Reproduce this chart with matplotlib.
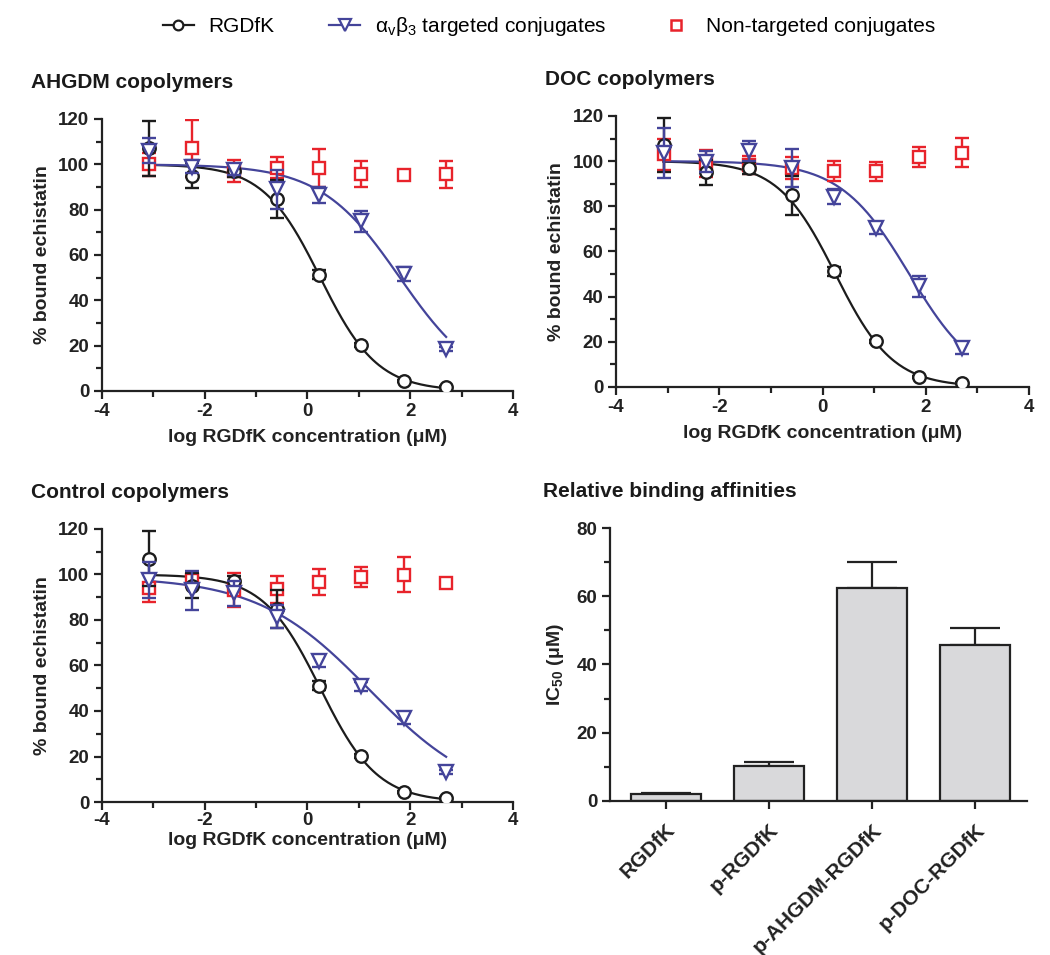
import numpy as np
import matplotlib.pyplot as plt
from matplotlib.lines import Line2D

plt.rcParams['font.family'] = ['Liberation Sans', 'DejaVu Sans']
plt.rcParams['axes.unicode_minus'] = False

# log RGDfK concentration (uM)
x = [-3.08, -2.25, -1.43, -0.6, 0.22, 1.04, 1.87, 2.7]

# RGDfK (same control in all three curve panels)
rgd_y = [107.0, 95.0, 97.0, 84.8, 51.2, 20.2, 4.4, 1.8]
rgd_e = [12.0, 5.5, 2.5, 8.5, 2.0, 0.8, 0.6, 0.5]

# AHGDM copolymers
ahgdm_t_y = [106.0, 99.0, 97.5, 89.0, 86.5, 74.8, 51.5, 18.5]
ahgdm_t_e = [5.5, 3.0, 2.0, 8.5, 3.5, 4.5, 3.0, 0.8]
ahgdm_n_y = [100.0, 107.0, 97.2, 98.5, 98.5, 95.7, 95.3, 95.6]
ahgdm_n_e = [5.0, 12.5, 4.8, 4.7, 8.3, 5.8, 2.0, 6.0]

# DOC copolymers
doc_t_y = [103.5, 99.8, 104.4, 97.0, 84.3, 70.3, 44.5, 17.2]
doc_t_e = [11.0, 4.5, 4.5, 8.5, 3.5, 2.5, 4.8, 2.5]
doc_n_y = [103.0, 99.0, 98.3, 97.0, 95.7, 95.4, 101.7, 103.8]
doc_n_e = [7.0, 6.0, 4.0, 5.0, 4.5, 4.0, 4.5, 6.5]

# Control copolymers
ctl_t_y = [97.5, 93.0, 91.8, 81.5, 62.0, 50.8, 37.0, 13.2]
ctl_t_e = [8.0, 8.5, 5.5, 5.0, 2.5, 2.0, 2.5, 0.8]
ctl_n_y = [94.0, 97.6, 93.2, 93.5, 96.9, 98.8, 99.8, 96.4]
ctl_n_e = [6.0, 3.0, 7.5, 6.0, 5.7, 4.5, 7.7, 0.8]

# fitted dose-response parameters: (top, log IC50, hill)
rgd_fit = (100.0, 0.25, 0.78)
ahgdm_fit = (100.0, 1.80, 0.56)
doc_fit = (100.0, 1.68, 0.65)
ctl_fit = (99.0, 1.20, 0.40)

# relative binding affinities
bar_names = ['RGDfK', 'p-RGDfK', 'p-AHGDM-RGDfK', 'p-DOC-RGDfK']
ic50 = [1.9, 10.3, 62.3, 45.6]
ic50_err = [0.3, 1.2, 7.6, 5.1]

black = '#1c1c1c'
blue = '#44449a'
red = '#e8232b'
axc = '#222222'


def fit_curve(params):
    top, logic, hill = params
    xx = np.linspace(x[0], x[-1], 200)
    return xx, top / (1 + 10 ** ((xx - logic) * hill))


def style(ax, xlim, ylim, yticks, minor):
    for s in ['top', 'right']:
        ax.spines[s].set_visible(False)
    for s in ['left', 'bottom']:
        ax.spines[s].set_linewidth(1.6)
        ax.spines[s].set_color(axc)
    ax.set_xlim(*xlim)
    ax.set_ylim(*ylim)
    ax.set_yticks(yticks)
    ax.set_yticks(minor, minor=True)
    ax.tick_params(which='major', length=6, width=1.6, labelsize=13.5, color=axc, pad=3)
    ax.tick_params(which='minor', length=4, width=1.6, color=axc)
    for lb in ax.get_xticklabels() + ax.get_yticklabels():
        lb.set_fontweight('bold')
        lb.set_color(axc)


def series(ax, y, e, marker, ms, col, z):
    ax.errorbar(x, y, yerr=e, fmt=marker, ms=ms, mfc='white', mec=col, mew=1.7,
                ecolor=col, elinewidth=1.7, capsize=5, capthick=1.7, zorder=z)


def curve_panel(ax, title, t_y, t_e, n_y, n_e, t_fit, tpad, xpad):
    xx, yy = fit_curve(rgd_fit)
    ax.plot(xx, yy, color=black, lw=1.6, zorder=2)
    xx, yy = fit_curve(t_fit)
    ax.plot(xx, yy, color=blue, lw=1.6, zorder=2)
    series(ax, n_y, n_e, 's', 9, red, 3)
    series(ax, rgd_y, rgd_e, 'o', 9, black, 4)
    series(ax, t_y, t_e, 'v', 10, blue, 5)
    style(ax, (-4, 4), (0, 120), range(0, 121, 20), range(10, 120, 20))
    ax.set_xticks([-4, -2, 0, 2, 4])
    ax.set_xticks([-3, -1, 1, 3], minor=True)
    ax.tick_params(axis='x', which='major', pad=tpad)
    for lb in ax.get_xticklabels():
        lb.set_fontweight('bold')
    ax.set_xlabel(u'log RGDfK concentration (\u03bcM)', fontsize=14, fontweight='bold',
                  color=axc, labelpad=xpad)
    ax.set_ylabel('% bound echistatin', fontsize=14, fontweight='bold', color=axc,
                  labelpad=5)
    ax.set_title(title, fontsize=15, fontweight='bold', loc='left', x=-0.172, pad=22,
                 color='#1a1a1a')


fig = plt.figure(figsize=(10.5, 9.55), dpi=100)
ax1 = fig.add_axes([0.0971, 0.5906, 0.3914, 0.2848])
ax2 = fig.add_axes([0.5867, 0.5948, 0.3933, 0.2838])
ax3 = fig.add_axes([0.0971, 0.1602, 0.3914, 0.2859])
ax4 = fig.add_axes([0.5810, 0.1613, 0.3970, 0.2858])

curve_panel(ax1, 'AHGDM copolymers', ahgdm_t_y, ahgdm_t_e, ahgdm_n_y, ahgdm_n_e, ahgdm_fit, 3, 6)
curve_panel(ax2, 'DOC copolymers', doc_t_y, doc_t_e, doc_n_y, doc_n_e, doc_fit, 3, 6)
curve_panel(ax3, 'Control copolymers', ctl_t_y, ctl_t_e, ctl_n_y, ctl_n_e, ctl_fit, 1, 2)

# bar chart
pos = np.arange(len(bar_names))
ax4.bar(pos, ic50, width=0.68, color='#d9d9db', edgecolor=axc, linewidth=1.6, zorder=2)
ax4.errorbar(pos, ic50, yerr=[np.zeros(len(ic50)), ic50_err], fmt='none', ecolor=axc,
             elinewidth=1.6, capsize=18, capthick=1.6, zorder=1)
style(ax4, (-0.54, 3.5), (0, 80), range(0, 81, 20), range(10, 80, 20))
ax4.set_xticks(pos)
ax4.set_xticklabels(bar_names, rotation=45, ha='right', rotation_mode='anchor',
                    fontsize=15, fontweight='bold', color=axc)
ax4.tick_params(axis='x', pad=8)
ax4.set_ylabel(r'IC$\mathregular{_{50}}$ ($\mathregular{\mu}$M)', fontsize=14,
               fontweight='bold', color=axc, labelpad=8)
ax4.set_title('Relative binding affinities', fontsize=15, fontweight='bold', loc='left',
              x=-0.16, pad=22, color='#1a1a1a')

# legend
handles = [
    Line2D([], [], color=black, lw=1.6, marker='o', ms=7, mfc='white', mec=black, mew=1.6),
    Line2D([], [], color=blue, lw=1.6, marker='v', ms=8, mfc='white', mec=blue, mew=1.6),
    Line2D([], [], color=red, lw=0, marker='s', ms=7, mfc='white', mec=red, mew=1.8),
]
labels = ['RGDfK', r'$\mathregular{\alpha_v\beta_3}$ targeted conjugates',
          'Non-targeted conjugates']
fig.legend(handles, labels, loc='upper center', bbox_to_anchor=(0.523, 1.004), ncol=3,
           frameon=False, fontsize=15, handlelength=1.5, columnspacing=2.6,
           handletextpad=0.7)

fig.savefig('out.png', dpi=100)
